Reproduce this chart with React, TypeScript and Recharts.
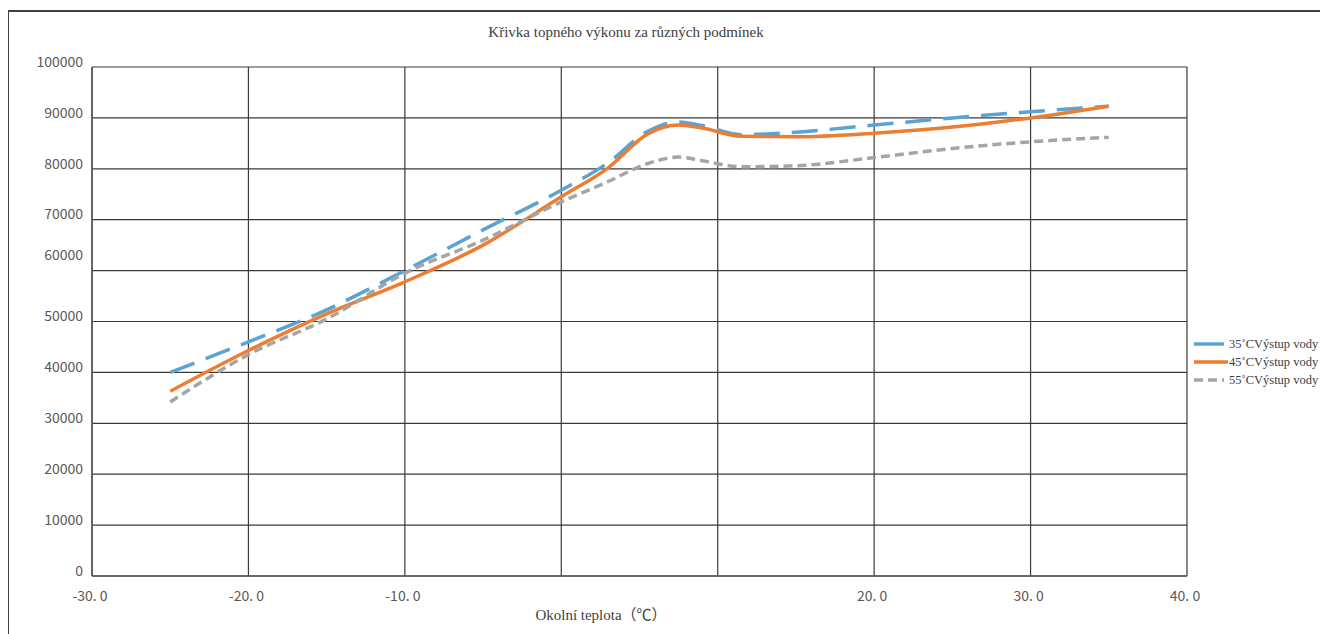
import { LineChart, Line, XAxis, YAxis, CartesianGrid } from 'recharts';

const temps = [-25, -20, -15, -10, -5, 0, 3, 5.5, 7.5, 9, 11.5, 15, 20, 25, 30, 35];
const out35 = [40000, 46000, 52300, 60000, 68000, 75800, 81200, 87300, 89200, 88500, 86700, 87200, 88600, 90000, 91200, 92300];
const out45 = [36300, 44300, 51500, 57800, 65000, 74500, 80200, 86800, 88600, 88000, 86400, 86300, 87000, 88200, 90000, 92300];
const out55 = [34200, 43500, 50500, 59500, 66000, 73500, 77500, 81000, 82300, 81600, 80400, 80600, 82200, 84000, 85300, 86200];

const xTicks = [-30, -20, -10, 0, 10, 20, 30, 40];
const xTickLabels = ['-30. 0', '-20. 0', '-10. 0', '', '', '20. 0', '30. 0', '40. 0'];
const yTicks = [0, 10000, 20000, 30000, 40000, 50000, 60000, 70000, 80000, 90000, 100000];

const seriesNames = ['35˚CVýstup vody', '45˚CVýstup vody', '55˚CVýstup vody'];
const colors = ['#5BA3D3', '#ED7D31', '#A5A5A5'];
const dashes = ['26 12', '', '9 5'];

const data = temps.map((t, i) => ({
  t,
  s35: out35[i],
  s45: out45[i],
  s55: out55[i],
}));

const tickFont = '"Noto Sans CJK SC", "Noto Sans", sans-serif';
const serif = '"Liberation Serif", "Noto Sans CJK SC", serif';

const YTick = ({ x, y, payload }: any) => {
  // the 60000 label sits higher than its grid line in the original
  const dy = payload.value === 60000 ? -14 : -4;
  return (
    <text x={x - 1} y={y + dy} textAnchor="end" dominantBaseline="middle" fontSize={14} fill="#595959" fontFamily={tickFont}>
      {payload.value}
    </text>
  );
};

const XTick = ({ x, y, payload }: any) => {
  const idx = xTicks.indexOf(payload.value);
  return (
    <text x={x - 2} y={y + 13} textAnchor="middle" dominantBaseline="middle" fontSize={14} fill="#595959" fontFamily={tickFont}>
      {xTickLabels[idx]}
    </text>
  );
};

export default function App() {
  const keys = ['s35', 's45', 's55'];
  return (
    <div style={{ position: 'relative', width: 1320, height: 626, overflow: 'hidden', background: '#fff' }}>
      <div
        style={{
          position: 'absolute',
          left: -1,
          top: 2,
          width: 1400,
          height: 623,
          borderLeft: '2px solid #404040',
          borderTop: '2px solid #404040',
          borderBottom: '1px solid #e6e6e6',
        }}
      />
      <div style={{ position: 'absolute', left: 0, top: 16, width: 1236, textAlign: 'center', fontFamily: serif, fontSize: 15, color: '#404040' }}>
        Křivka topného výkonu za různých podmínek
      </div>
      <LineChart
        width={1320}
        height={626}
        data={data}
        margin={{ top: 59, right: 141, left: 24, bottom: 28 }}
        style={{ position: 'absolute', left: 0, top: 0 }}
      >
        <CartesianGrid stroke="#3a3a3a" strokeWidth={1.2} />
        <XAxis
          type="number"
          dataKey="t"
          domain={[-30, 40]}
          ticks={xTicks}
          tick={<XTick />}
          tickLine={false}
          axisLine={{ stroke: '#595959', strokeWidth: 1.5 }}
          height={30}
          interval={0}
        />
        <YAxis
          type="number"
          domain={[0, 100000]}
          ticks={yTicks}
          tick={<YTick />}
          tickLine={false}
          axisLine={{ stroke: '#595959', strokeWidth: 1.5 }}
          width={60}
          interval={0}
        />
        {keys.map((k, i) => (
          <Line
            key={k}
            type="monotone"
            dataKey={k}
            stroke={colors[i]}
            strokeWidth={3.5}
            strokeDasharray={dashes[i] || undefined}
            dot={false}
            isAnimationActive={false}
          />
        ))}
      </LineChart>
      <div style={{ position: 'absolute', left: 0, top: 595, width: 1186, textAlign: 'center', fontFamily: serif, fontSize: 15, color: '#404040' }}>
        Okolní teplota（℃）
      </div>
      <div style={{ position: 'absolute', left: 1183, top: 327 }}>
        {seriesNames.map((name, i) => (
          <div key={name} style={{ display: 'flex', alignItems: 'center', height: 18, whiteSpace: 'nowrap' }}>
            <svg width={38} height={6}>
              <line
                x1={3}
                y1={3}
                x2={i === 1 ? 37 : 33}
                y2={3}
                stroke={colors[i]}
                strokeWidth={3.5}
                strokeDasharray={i === 2 ? '9 5' : undefined}
              />
            </svg>
            <span style={{ fontFamily: serif, fontSize: 12.5, color: '#404040' }}>{name}</span>
          </div>
        ))}
      </div>
    </div>
  );
}
